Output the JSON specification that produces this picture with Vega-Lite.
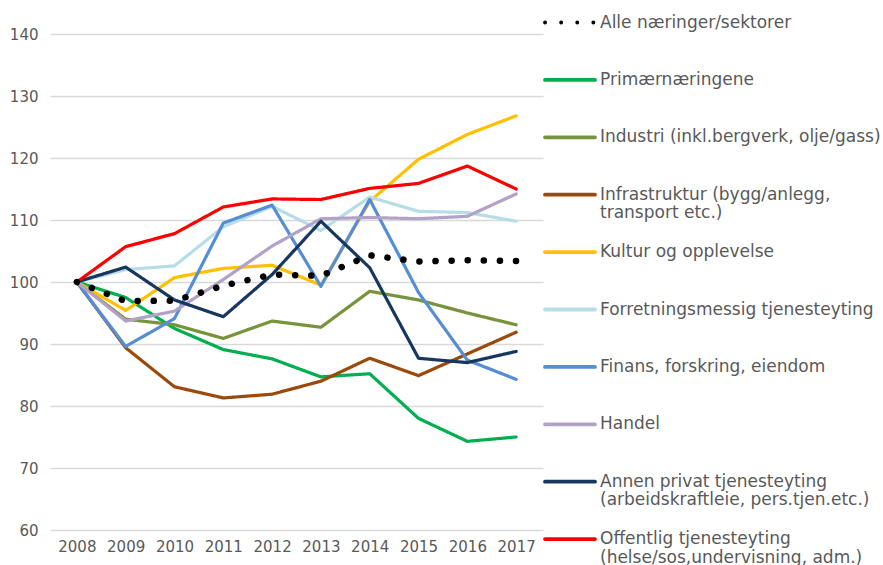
{
  "$schema": "https://vega.github.io/schema/vega-lite/v6.json",
  "autosize": {"type": "none"},
  "padding": {"left": 50, "top": 34, "right": 340, "bottom": 35},
  "width": 493,
  "height": 496,
  "background": "white",
  "title": {
    "text": "(indeks 2008 = 100)",
    "frame": "group",
    "anchor": "start",
    "dx": 202,
    "offset": 30,
    "baseline": "alphabetic",
    "fontSize": 16,
    "font": "DejaVu Sans",
    "fontWeight": "normal",
    "color": "#000000"
  },
  "config": {
    "view": {"stroke": null},
    "font": "DejaVu Sans",
    "axis": {
      "labelFont": "DejaVu Sans",
      "labelFontSize": 15,
      "labelColor": "#595959",
      "domain": false,
      "ticks": false,
      "gridColor": "#D9D9D9",
      "gridWidth": 1.3,
      "title": null
    },
    "legend": {
      "orient": "none",
      "legendX": 493,
      "legendY": -38.5,
      "title": null,
      "symbolType": "stroke",
      "symbolSize": 2500,
      "symbolStrokeWidth": 3.8,
      "labelFont": "DejaVu Sans",
      "labelFontSize": 17,
      "labelColor": "#595959",
      "labelOffset": 3,
      "labelLimit": 400,
      "rowPadding": 3.4,
      "gridAlign": "all",
      "columnPadding": 0,
      "padding": 0
    }
  },
  "datasets": {
    "rows": [
      {"s": "Primærnæringene", "year": "2008", "v": 100},
      {"s": "Primærnæringene", "year": "2009", "v": 97.5},
      {"s": "Primærnæringene", "year": "2010", "v": 92.5},
      {"s": "Primærnæringene", "year": "2011", "v": 89.1},
      {"s": "Primærnæringene", "year": "2012", "v": 87.6},
      {"s": "Primærnæringene", "year": "2013", "v": 84.7},
      {"s": "Primærnæringene", "year": "2014", "v": 85.2},
      {"s": "Primærnæringene", "year": "2015", "v": 78.0},
      {"s": "Primærnæringene", "year": "2016", "v": 74.3},
      {"s": "Primærnæringene", "year": "2017", "v": 75.0},
      {"s": "Industri (inkl.bergverk, olje/gass)", "year": "2008", "v": 100},
      {"s": "Industri (inkl.bergverk, olje/gass)", "year": "2009", "v": 94.0},
      {"s": "Industri (inkl.bergverk, olje/gass)", "year": "2010", "v": 93.1},
      {"s": "Industri (inkl.bergverk, olje/gass)", "year": "2011", "v": 90.9},
      {"s": "Industri (inkl.bergverk, olje/gass)", "year": "2012", "v": 93.7},
      {"s": "Industri (inkl.bergverk, olje/gass)", "year": "2013", "v": 92.7},
      {"s": "Industri (inkl.bergverk, olje/gass)", "year": "2014", "v": 98.5},
      {"s": "Industri (inkl.bergverk, olje/gass)", "year": "2015", "v": 97.1},
      {"s": "Industri (inkl.bergverk, olje/gass)", "year": "2016", "v": 95.0},
      {"s": "Industri (inkl.bergverk, olje/gass)", "year": "2017", "v": 93.1},
      {"s": "Infrastruktur (bygg/anlegg,|transport etc.)", "year": "2008", "v": 100},
      {"s": "Infrastruktur (bygg/anlegg,|transport etc.)", "year": "2009", "v": 89.4},
      {"s": "Infrastruktur (bygg/anlegg,|transport etc.)", "year": "2010", "v": 83.1},
      {"s": "Infrastruktur (bygg/anlegg,|transport etc.)", "year": "2011", "v": 81.3},
      {"s": "Infrastruktur (bygg/anlegg,|transport etc.)", "year": "2012", "v": 81.9},
      {"s": "Infrastruktur (bygg/anlegg,|transport etc.)", "year": "2013", "v": 84.0},
      {"s": "Infrastruktur (bygg/anlegg,|transport etc.)", "year": "2014", "v": 87.7},
      {"s": "Infrastruktur (bygg/anlegg,|transport etc.)", "year": "2015", "v": 84.9},
      {"s": "Infrastruktur (bygg/anlegg,|transport etc.)", "year": "2016", "v": 88.4},
      {"s": "Infrastruktur (bygg/anlegg,|transport etc.)", "year": "2017", "v": 91.9},
      {"s": "Kultur og opplevelse", "year": "2008", "v": 100},
      {"s": "Kultur og opplevelse", "year": "2009", "v": 95.4},
      {"s": "Kultur og opplevelse", "year": "2010", "v": 100.7},
      {"s": "Kultur og opplevelse", "year": "2011", "v": 102.2},
      {"s": "Kultur og opplevelse", "year": "2012", "v": 102.7},
      {"s": "Kultur og opplevelse", "year": "2013", "v": 99.5},
      {"s": "Kultur og opplevelse", "year": "2014", "v": 113.0},
      {"s": "Kultur og opplevelse", "year": "2015", "v": 119.8},
      {"s": "Kultur og opplevelse", "year": "2016", "v": 123.8},
      {"s": "Kultur og opplevelse", "year": "2017", "v": 126.8},
      {"s": "Forretningsmessig tjenesteyting", "year": "2008", "v": 100},
      {"s": "Forretningsmessig tjenesteyting", "year": "2009", "v": 102.0},
      {"s": "Forretningsmessig tjenesteyting", "year": "2010", "v": 102.6},
      {"s": "Forretningsmessig tjenesteyting", "year": "2011", "v": 108.9},
      {"s": "Forretningsmessig tjenesteyting", "year": "2012", "v": 112.2},
      {"s": "Forretningsmessig tjenesteyting", "year": "2013", "v": 108.3},
      {"s": "Forretningsmessig tjenesteyting", "year": "2014", "v": 113.7},
      {"s": "Forretningsmessig tjenesteyting", "year": "2015", "v": 111.4},
      {"s": "Forretningsmessig tjenesteyting", "year": "2016", "v": 111.2},
      {"s": "Forretningsmessig tjenesteyting", "year": "2017", "v": 109.8},
      {"s": "Finans, forskring, eiendom", "year": "2008", "v": 100},
      {"s": "Finans, forskring, eiendom", "year": "2009", "v": 89.6},
      {"s": "Finans, forskring, eiendom", "year": "2010", "v": 94.1},
      {"s": "Finans, forskring, eiendom", "year": "2011", "v": 109.5},
      {"s": "Finans, forskring, eiendom", "year": "2012", "v": 112.4},
      {"s": "Finans, forskring, eiendom", "year": "2013", "v": 99.3},
      {"s": "Finans, forskring, eiendom", "year": "2014", "v": 113.3},
      {"s": "Finans, forskring, eiendom", "year": "2015", "v": 98.3},
      {"s": "Finans, forskring, eiendom", "year": "2016", "v": 87.4},
      {"s": "Finans, forskring, eiendom", "year": "2017", "v": 84.3},
      {"s": "Handel", "year": "2008", "v": 100},
      {"s": "Handel", "year": "2009", "v": 93.7},
      {"s": "Handel", "year": "2010", "v": 95.3},
      {"s": "Handel", "year": "2011", "v": 100.4},
      {"s": "Handel", "year": "2012", "v": 105.8},
      {"s": "Handel", "year": "2013", "v": 110.2},
      {"s": "Handel", "year": "2014", "v": 110.4},
      {"s": "Handel", "year": "2015", "v": 110.2},
      {"s": "Handel", "year": "2016", "v": 110.6},
      {"s": "Handel", "year": "2017", "v": 114.2},
      {"s": "Annen privat tjenesteyting|(arbeidskraftleie, pers.tjen.etc.)", "year": "2008", "v": 100},
      {"s": "Annen privat tjenesteyting|(arbeidskraftleie, pers.tjen.etc.)", "year": "2009", "v": 102.4},
      {"s": "Annen privat tjenesteyting|(arbeidskraftleie, pers.tjen.etc.)", "year": "2010", "v": 97.1},
      {"s": "Annen privat tjenesteyting|(arbeidskraftleie, pers.tjen.etc.)", "year": "2011", "v": 94.4},
      {"s": "Annen privat tjenesteyting|(arbeidskraftleie, pers.tjen.etc.)", "year": "2012", "v": 101.2},
      {"s": "Annen privat tjenesteyting|(arbeidskraftleie, pers.tjen.etc.)", "year": "2013", "v": 109.8},
      {"s": "Annen privat tjenesteyting|(arbeidskraftleie, pers.tjen.etc.)", "year": "2014", "v": 102.3},
      {"s": "Annen privat tjenesteyting|(arbeidskraftleie, pers.tjen.etc.)", "year": "2015", "v": 87.7},
      {"s": "Annen privat tjenesteyting|(arbeidskraftleie, pers.tjen.etc.)", "year": "2016", "v": 87.0},
      {"s": "Annen privat tjenesteyting|(arbeidskraftleie, pers.tjen.etc.)", "year": "2017", "v": 88.8},
      {"s": "Offentlig tjenesteyting|(helse/sos,undervisning, adm.)", "year": "2008", "v": 100},
      {"s": "Offentlig tjenesteyting|(helse/sos,undervisning, adm.)", "year": "2009", "v": 105.7},
      {"s": "Offentlig tjenesteyting|(helse/sos,undervisning, adm.)", "year": "2010", "v": 107.8},
      {"s": "Offentlig tjenesteyting|(helse/sos,undervisning, adm.)", "year": "2011", "v": 112.1},
      {"s": "Offentlig tjenesteyting|(helse/sos,undervisning, adm.)", "year": "2012", "v": 113.4},
      {"s": "Offentlig tjenesteyting|(helse/sos,undervisning, adm.)", "year": "2013", "v": 113.3},
      {"s": "Offentlig tjenesteyting|(helse/sos,undervisning, adm.)", "year": "2014", "v": 115.1},
      {"s": "Offentlig tjenesteyting|(helse/sos,undervisning, adm.)", "year": "2015", "v": 115.9},
      {"s": "Offentlig tjenesteyting|(helse/sos,undervisning, adm.)", "year": "2016", "v": 118.7},
      {"s": "Offentlig tjenesteyting|(helse/sos,undervisning, adm.)", "year": "2017", "v": 115.0},
      {"s": "Alle næringer/sektorer", "year": "2008", "v": 100},
      {"s": "Alle næringer/sektorer", "year": "2009", "v": 96.9},
      {"s": "Alle næringer/sektorer", "year": "2010", "v": 97.0},
      {"s": "Alle næringer/sektorer", "year": "2011", "v": 99.4},
      {"s": "Alle næringer/sektorer", "year": "2012", "v": 101.2},
      {"s": "Alle næringer/sektorer", "year": "2013", "v": 101.0},
      {"s": "Alle næringer/sektorer", "year": "2014", "v": 104.3},
      {"s": "Alle næringer/sektorer", "year": "2015", "v": 103.3},
      {"s": "Alle næringer/sektorer", "year": "2016", "v": 103.5},
      {"s": "Alle næringer/sektorer", "year": "2017", "v": 103.4}
    ]
  },
  "data": {"name": "rows"},
  "encoding": {
    "x": {
      "field": "year",
      "type": "ordinal",
      "scale": {"type": "point", "padding": 0.55},
      "axis": {"labelAngle": 0, "labelPadding": 9, "grid": false}
    },
    "y": {
      "field": "v",
      "type": "quantitative",
      "scale": {"domain": [60, 140], "nice": false, "zero": false},
      "axis": {"values": [60, 70, 80, 90, 100, 110, 120, 130, 140], "labelPadding": 12, "grid": true}
    },
    "color": {
      "field": "s",
      "type": "nominal",
      "scale": {
        "domain": [
          "Alle næringer/sektorer",
          "Primærnæringene",
          "Industri (inkl.bergverk, olje/gass)",
          "Infrastruktur (bygg/anlegg,|transport etc.)",
          "Kultur og opplevelse",
          "Forretningsmessig tjenesteyting",
          "Finans, forskring, eiendom",
          "Handel",
          "Annen privat tjenesteyting|(arbeidskraftleie, pers.tjen.etc.)",
          "Offentlig tjenesteyting|(helse/sos,undervisning, adm.)"
        ],
        "range": ["#000000", "#00B050", "#77933C", "#9A4A0C", "#FFC000", "#B7DEE8", "#558ED5", "#B3A2C7", "#17375E", "#FF0000"]
      },
      "legend": {
        "labelExpr": "split(datum.label, '|')",
        "encode": {
          "symbols": {"update": {"strokeCap": {"value": "round"}}},
          "labels": {"update": {"lineHeight": {"value": 18.5}}}
        }
      }
    },
    "strokeDash": {
      "field": "s",
      "type": "nominal",
      "scale": {
        "domain": [
          "Alle næringer/sektorer",
          "Primærnæringene",
          "Industri (inkl.bergverk, olje/gass)",
          "Infrastruktur (bygg/anlegg,|transport etc.)",
          "Kultur og opplevelse",
          "Forretningsmessig tjenesteyting",
          "Finans, forskring, eiendom",
          "Handel",
          "Annen privat tjenesteyting|(arbeidskraftleie, pers.tjen.etc.)",
          "Offentlig tjenesteyting|(helse/sos,undervisning, adm.)"
        ],
        "range": [[0.1, 16], [1, 0], [1, 0], [1, 0], [1, 0], [1, 0], [1, 0], [1, 0], [1, 0], [1, 0]]
      },
      "legend": {
        "labelExpr": "split(datum.label, '|')",
        "encode": {
          "symbols": {"update": {"strokeCap": {"value": "round"}}},
          "labels": {"update": {"lineHeight": {"value": 18.5}}}
        }
      }
    }
  },
  "layer": [
    {
      "transform": [{"filter": "datum.s !== 'Alle næringer/sektorer'"}],
      "mark": {"type": "line", "strokeWidth": 3.2, "strokeCap": "round", "strokeJoin": "round"}
    },
    {
      "transform": [{"filter": "datum.s === 'Alle næringer/sektorer'"}],
      "mark": {"type": "line", "strokeWidth": 6.5, "strokeCap": "round", "strokeJoin": "round"}
    }
  ]
}
